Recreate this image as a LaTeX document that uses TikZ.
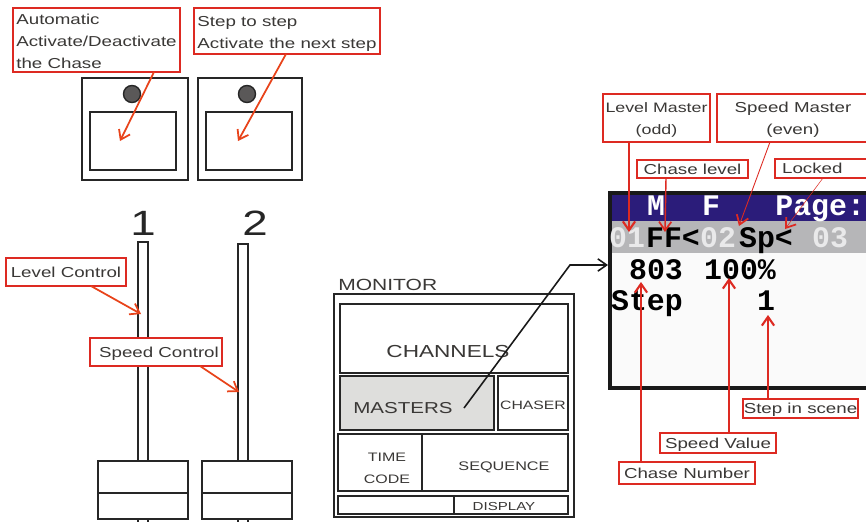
\documentclass[tikz,border=0pt]{standalone}
\usepackage{fontspec}
\setmainfont[FakeStretch=1.3]{Liberation Sans}
\newfontfamily\lcdfont{Liberation Mono}
\usetikzlibrary{arrows.meta}
\definecolor{calloutred}{HTML}{DD2A22}
\definecolor{arroworange}{HTML}{E8431A}
\definecolor{inktext}{HTML}{3A3836}
\definecolor{lcdblue}{HTML}{2B1C7A}
\definecolor{lcdgrey}{HTML}{B6B6B8}
\definecolor{knobgrey}{HTML}{5A5858}
\definecolor{mastergrey}{HTML}{DEDEDC}
\newcommand{\topgap}[1]{\rule{0pt}{#1pt}}
\tikzset{
  wh/.style 2 args={minimum width=#1*0.02cm, minimum height=#2*0.02cm, inner sep=0pt, outer sep=0pt},
  callout/.style={draw=calloutred, line width=1.1pt, fill=white, text=inktext, anchor=north west, align=left, font=\fontsize{8.2}{12.6}\selectfont},
  oneline/.style={align=center, text height=6.5pt, text depth=0.7pt},
  panel/.style={draw=black!85, line width=1pt, fill=white, anchor=north west},
  panellabel/.style={text=inktext, align=center, inner sep=0pt, font=\fontsize{7}{12.4}\selectfont},
  lcdtext/.style={inner sep=0pt, anchor=base, font=\fontsize{17}{17}\lcdfont\bfseries},
  orangearrow/.style={->, draw=arroworange, line width=1pt},
  redarrow/.style={->, draw=calloutred, line width=1.2pt},
  thinarrow/.style={-{Straight Barb[length=5pt,width=7pt,line width=1pt]}, draw=calloutred, line width=0.5pt}
}
\begin{document}
\begin{tikzpicture}[x=0.02cm, y=-0.02cm, >={Straight Barb[length=5pt,width=7pt]}]
      \useasboundingbox (0,0) rectangle (866,521);
      % chase buttons
      \node[panel, wh={106}{102}] (btnauto) at (82,78) {};
      \node[panel, wh={86}{58}] (padauto) at (90,112) {};
      \node[draw=black!85, fill=knobgrey, circle, wh={17}{17}, line width=0.8pt] (knobauto) at (132,94) {};
      \node[panel, wh={104}{102}] (btnstep) at (198,78) {};
      \node[panel, wh={86}{58}] (padstep) at (206,112) {};
      \node[draw=black!85, fill=knobgrey, circle, wh={17}{17}, line width=0.8pt] (knobstep) at (247,94) {};
      \node[callout, wh={167}{64}] (autobox) at (13,8) {\topgap{7.2}Automatic\\Activate/Deactivate\\the Chase};
      \node[callout, wh={186}{46}] (stepbox) at (194,8) {\topgap{9.3}Step to step\\Activate the next step};
      \coordinate (tipauto) at (120,141);
      \coordinate (tipstep) at (238,141);
      \draw[orangearrow] (154,0 |- autobox.south) -- (tipauto);
      \draw[orangearrow] (286,0 |- stepbox.south) -- (tipstep);
      % faders
      \node[panel, wh={10}{284}] (trackone) at (138,242) {};
      \node[panel, wh={10}{282}] (tracktwo) at (238,244) {};
      \node[panel, wh={90}{32}] (capone) at (98,461) {};
      \node[panel, wh={90}{26}] (baseone) at (98,493) {};
      \node[panel, wh={90}{32}] (captwo) at (202,461) {};
      \node[panel, wh={90}{26}] (basetwo) at (202,493) {};
      \node[inner sep=0pt, font=\fontsize{20}{20}\selectfont, text=black!85] (numone) at (143,223) {1};
      \node[inner sep=0pt, font=\fontsize{20}{20}\selectfont, text=black!85] (numtwo) at (255,223) {2};
      \node[callout, wh={120}{28}, oneline] (levelctl) at (6,258) {Level Control};
      \node[callout, wh={132}{28}, oneline] (speedctl) at (90,338) {\hspace{3.4pt}Speed Control};
      \coordinate (tiplevel) at (141,314);
      \coordinate (tipspeed) at (239,392);
      \draw[orangearrow] (91,0 |- levelctl.south) -- (tiplevel);
      \draw[orangearrow] (200,0 |- speedctl.south) -- (tipspeed);
      % monitor
      \node[inner sep=0pt, anchor=west, text=inktext, font=\fontsize{9.2}{11}\selectfont] (montitle) at (338,285) {MONITOR};
      \node[panel, wh={240}{223}] (monitor) at (334,294) {};
      \node[panel, wh={228}{69}] (channels) at (340,304) {};
      \node[panel, wh={154}{54}, fill=mastergrey] (masters) at (340,376) {};
      \node[panel, wh={70}{54}] (chaser) at (498,376) {};
      \node[panel, wh={84}{57}] (timecode) at (338,434) {};
      \node[panel, wh={146}{57}] (sequence) at (422,434) {};
      \node[panel, wh={230}{18}] (displayrow) at (338,496) {};
      \node[panel, wh={114}{18}] (display) at (454,496) {};
      \node[panellabel, font=\fontsize{9.9}{12}\selectfont] (channelstxt) at (448,352) {CHANNELS};
      \node[panellabel, font=\fontsize{9}{12}\selectfont] (masterstxt) at (403,408) {MASTERS};
      \node[panellabel, font=\fontsize{6.9}{11}\selectfont] (chasertxt) at (533,405) {CHASER};
      \node[panellabel] (timecodetxt) at (387,468) {TIME\\CODE};
      \node[panellabel, font=\fontsize{7.1}{11}\selectfont] (sequencetxt) at (504,467) {SEQUENCE};
      \node[panellabel, font=\fontsize{6.6}{11}\selectfont] (displaytxt) at (504,507) {DISPLAY};
      % lcd screen
      \node[draw=black!90, line width=2.3pt, fill=white!98!black, anchor=north west, wh={270}{195}] (screen) at (610,193) {};
      \node[fill=lcdblue, anchor=north west, wh={256}{26}] (lcdhead) at (612,195) {};
      \node[fill=lcdgrey, anchor=north west, wh={256}{32}] (lcdband) at (612,221) {};
      \node[lcdtext, text=white] (hdm) at (656,215) {M};
      \node[lcdtext, text=white] (hdf) at (711,215) {F};
      \node[lcdtext, text=white, anchor=base west] (hdpage) at (775,215) {Page:};
      \node[lcdtext, text=white!70!lcdgrey] (cellone) at (627,247) {01};
      \node[lcdtext] (cellff) at (673,247) {FF<};
      \node[lcdtext, text=white!70!lcdgrey] (celltwo) at (718,247) {02};
      \node[lcdtext] (cellsp) at (766,247) {Sp<};
      \node[lcdtext, text=white!70!lcdgrey] (cellthree) at (830,247) {03};
      \node[lcdtext] (chasenum) at (656,279) {803};
      \node[lcdtext] (speedval) at (740,279) {100\%};
      \node[lcdtext] (steplbl) at (647,310) {Step};
      \node[lcdtext] (stepval) at (766,310) {1};
      % callouts round the screen
      \node[callout, wh={107}{48}, align=center, font=\fontsize{7.8}{12.6}\selectfont] (lvlmaster) at (603,94) {\topgap{8}Level Master\\(odd)};
      \node[callout, wh={152}{48}, align=center] (spdmaster) at (717,94) {\topgap{8}Speed Master\\(even)};
      \node[callout, wh={111}{18}, oneline] (chaselvl) at (637,160) {Chase level};
      \node[callout, wh={94}{19}, oneline] (locked) at (775,159) {\hspace{-11pt}Locked};
      \node[callout, wh={136}{22}, oneline] (chasebox) at (619,462) {Chase Number};
      \node[callout, wh={116}{20}, oneline] (speedbox) at (660,433) {Speed Value};
      \node[callout, wh={115}{19}, oneline] (scenebox) at (743,399) {Step in scene};
      \coordinate (tiplm) at (629,232);
      \coordinate (tipcl) at (665,232);
      \coordinate (tipsm) at (739,226);
      \coordinate (tiplk) at (785,229);
      \coordinate (tipcn) at (641,282);
      \coordinate (tipsv) at (729,278);
      \coordinate (tipst) at (768,315);
      \draw[redarrow] (629,0 |- lvlmaster.south) -- (tiplm);
      \draw[thinarrow, line width=0.8pt] (666,0 |- chaselvl.south) -- (tipcl);
      \draw[thinarrow] (770,0 |- spdmaster.south) -- (tipsm);
      \draw[thinarrow, line width=0.3pt] (823,0 |- locked.south) -- (tiplk);
      \draw[redarrow] (641,0 |- chasebox.north) -- (tipcn);
      \draw[redarrow] (729,0 |- speedbox.north) -- (tipsv);
      \draw[redarrow] (768,0 |- scenebox.north) -- (tipst);
      % masters to screen
      \coordinate (mastersend) at (464,408);
      \coordinate (elbow) at (570,265);
      \draw[->, draw=black!90, line width=0.9pt] (mastersend) -- (elbow) -- (608,0 |- elbow);
    \end{tikzpicture}
\end{document}
